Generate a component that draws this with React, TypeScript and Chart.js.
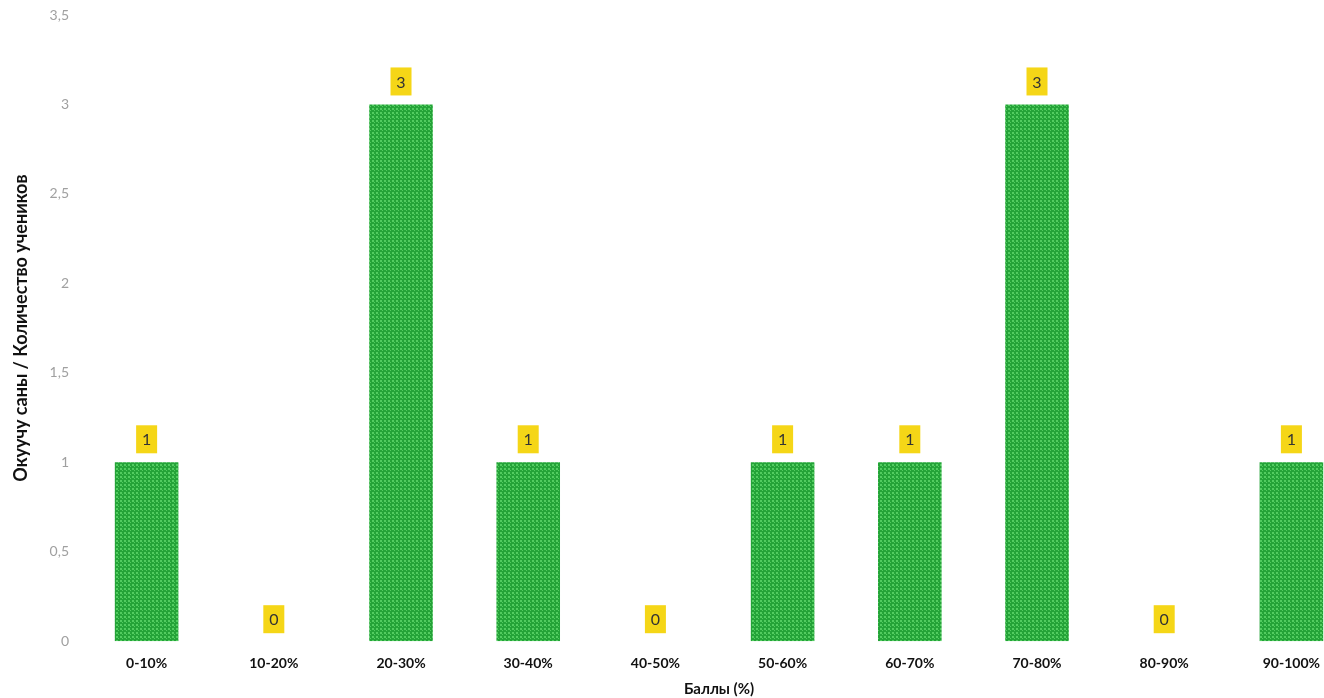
import React, { useEffect, useRef } from "react";
import { Chart, registerables } from "chart.js";

Chart.register(...registerables);

const categories = ["0-10%", "10-20%", "20-30%", "30-40%", "40-50%", "50-60%", "60-70%", "70-80%", "80-90%", "90-100%"];
const studentCounts = [1, 0, 3, 1, 0, 1, 1, 3, 0, 1];
const yTitle = "Окуучу саны / Количество учеников";
const xTitle = "Баллы (%)";

function makePattern(): CanvasPattern | string {
  const c = document.createElement("canvas");
  c.width = 4;
  c.height = 4;
  const g = c.getContext("2d");
  if (!g) return "#27a83b";
  g.fillStyle = "#24a338";
  g.fillRect(0, 0, 4, 4);
  g.fillStyle = "#52cc60";
  g.fillRect(0, 0, 2, 2);
  g.fillRect(2, 2, 1, 1);
  const p = g.createPattern(c, "repeat");
  return p || "#27a83b";
}

const labelBoxPlugin = {
  id: "labelBoxes",
  afterDatasetsDraw(chart: any) {
    const ctx = chart.ctx;
    const meta = chart.getDatasetMeta(0);
    ctx.save();
    ctx.font = "16px Lato";
    ctx.textAlign = "center";
    ctx.textBaseline = "middle";
    meta.data.forEach((bar: any, i: number) => {
      const v = chart.data.datasets[0].data[i];
      const cx = bar.x;
      const bottom = bar.y - (v === 0 ? 8 : 9);
      const w = 21;
      const h = 28;
      ctx.fillStyle = "#f5d617";
      ctx.fillRect(cx - w / 2, bottom - h, w, h);
      ctx.fillStyle = "#333333";
      ctx.fillText(String(v), cx, bottom - h / 2 + 1);
    });
    ctx.restore();
  },
};

export default function App() {
  const ref = useRef<HTMLCanvasElement | null>(null);
  useEffect(() => {
    if (!ref.current) return;
    const chart = new Chart(ref.current, {
      type: "bar",
      data: {
        labels: categories,
        datasets: [
          {
            data: studentCounts,
            backgroundColor: makePattern() as any,
            borderWidth: 0,
            barPercentage: 0.5,
            categoryPercentage: 1,
          },
        ],
      },
      options: {
        animation: false,
        responsive: false,
        maintainAspectRatio: false,
        layout: { padding: { top: 15, left: 10, right: 5, bottom: 0 } },
        plugins: {
          legend: { display: false },
          tooltip: { enabled: false },
        },
        scales: {
          x: {
            grid: { display: false },
            border: { display: false },
            ticks: {
              color: "#111111",
              font: { family: "Lato", size: 14, weight: "bold" },
              padding: 6,
            },
            title: {
              display: true,
              text: xTitle,
              color: "#111111",
              font: { family: "Lato", size: 15, weight: "bold" },
              padding: { top: 2, bottom: 0 },
            },
          },
          y: {
            min: 0,
            max: 3.5,
            grid: { display: false },
            border: { display: false },
            ticks: {
              stepSize: 0.5,
              color: "#a0a0a0",
              font: { family: "Lato", size: 14 },
              padding: 6,
              callback: (v: any) => String(v).replace(".", ","),
            },
            title: {
              display: true,
              text: yTitle,
              color: "#111111",
              font: { family: "Lato", size: 18, weight: "bold" },
              padding: { top: 0, bottom: 12 },
            },
          },
        },
      },
      plugins: [labelBoxPlugin],
    });
    return () => chart.destroy();
  }, []);
  return (
    <div style={{ position: "fixed", left: 0, top: 0, width: 1324, height: 698, overflow: "hidden", background: "#ffffff" }}>
      <canvas ref={ref} width={1360} height={698} style={{ width: 1360, height: 698, display: "block" }} />
    </div>
  );
}
